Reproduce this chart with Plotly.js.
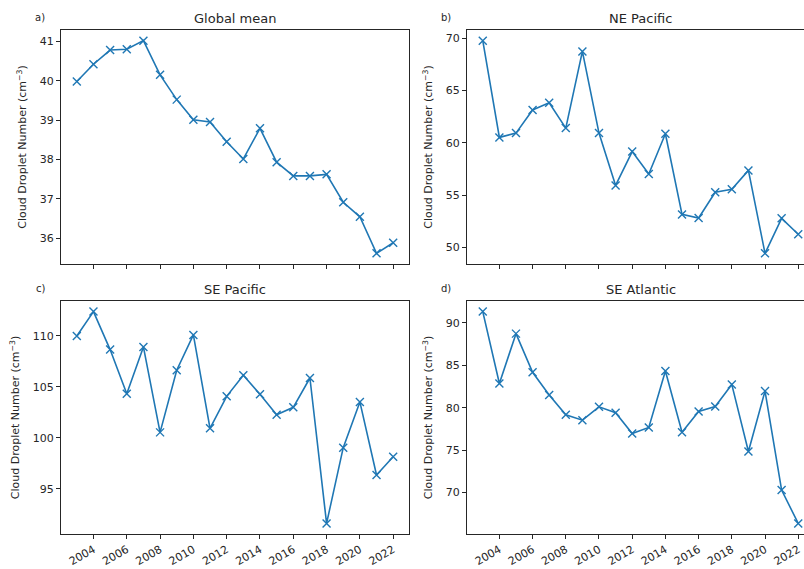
<!DOCTYPE html>
<html>
<head>
<meta charset="utf-8">
<script src="https://cdn.plot.ly/plotly-3.0.1.min.js"></script>
<style>
  html, body { margin: 0; padding: 0; overflow: hidden; background: #ffffff; }
  #chart { width: 822px; height: 569px; }
</style>
</head>
<body>
<div id="chart"></div>
<script>
// Annual cloud droplet number concentration, 2003-2022
const years = [2003, 2004, 2005, 2006, 2007, 2008, 2009, 2010, 2011, 2012,
               2013, 2014, 2015, 2016, 2017, 2018, 2019, 2020, 2021, 2022];

const globalMean = [39.98, 40.42, 40.78, 40.80, 41.02, 40.15, 39.52, 39.01, 38.95, 38.45,
                    38.01, 38.79, 37.93, 37.58, 37.58, 37.62, 36.91, 36.54, 35.61, 35.88];
const nePacific  = [69.78, 60.52, 60.93, 63.15, 63.83, 61.41, 68.75, 60.93, 55.92, 59.16,
                    57.01, 60.87, 53.15, 52.80, 55.27, 55.56, 57.36, 49.42, 52.77, 51.25];
const sePacific  = [110.0, 112.39, 108.66, 104.33, 108.92, 100.53, 106.63, 110.10, 100.93, 104.07,
                    106.14, 104.27, 102.27, 102.99, 105.87, 91.59, 99.03, 103.52, 96.34, 98.14];
const seAtlantic = [91.34, 82.85, 88.74, 84.18, 81.51, 79.16, 78.53, 80.10, 79.40, 76.96,
                    77.67, 84.34, 77.11, 79.55, 80.14, 82.73, 74.83, 81.96, 70.28, 66.35];

const panelTitles  = ["Global mean", "NE Pacific", "SE Pacific", "SE Atlantic"];
const panelLetters = ["a)", "b)", "c)", "d)"];
const yTickSteps   = [1, 5, 5, 5];
const xTickValues  = [2004, 2006, 2008, 2010, 2012, 2014, 2016, 2018, 2020, 2022];
const yLabel = "Cloud Droplet Number (cm<sup>\u22123</sup>)";

const series = [globalMean, nePacific, sePacific, seAtlantic];

// Figure geometry (pixels); the right column runs slightly past the page edge
const W = 822, H = 569;
const colX = [[61, 409], [467, 814]];
const rowY = [[30, 264], [301, 534]];

const lineColor = "#1f77b4";
const axisColor = "#262626";
const font = "DejaVu Sans, sans-serif";

function padRange(vals, frac) {
  const lo = Math.min(...vals), hi = Math.max(...vals);
  const p = (hi - lo) * frac;
  return [lo - p, hi + p];
}
const xPad = (years[years.length - 1] - years[0]) * 0.05;
const xRange = [years[0] - xPad, years[years.length - 1] + xPad];

const data = [];
const layout = {
  width: W, height: H,
  margin: {l: 0, r: 0, t: 0, b: 0},
  paper_bgcolor: "#ffffff",
  plot_bgcolor: "#ffffff",
  showlegend: false,
  font: {family: font, size: 11, color: axisColor},
  annotations: []
};

series.forEach((vals, i) => {
  const row = Math.floor(i / 2), col = i % 2;
  const n = i + 1;
  const xa = "x" + (n === 1 ? "" : n), ya = "y" + (n === 1 ? "" : n);
  const xk = "xaxis" + (n === 1 ? "" : n), yk = "yaxis" + (n === 1 ? "" : n);
  const [x0, x1] = colX[col];
  const [yt, yb] = rowY[row];

  data.push({
    type: "scatter", mode: "lines+markers",
    x: years, y: vals, xaxis: xa, yaxis: ya,
    line: {color: lineColor, width: 1.6},
    marker: {symbol: "x-thin", size: 8, color: lineColor,
             line: {color: lineColor, width: 1.4}}
  });

  layout[xk] = {
    domain: [x0 / W, x1 / W],
    anchor: ya,
    range: xRange,
    tickmode: "array", tickvals: xTickValues,
    ticktext: xTickValues.map(String),
    showticklabels: row === 1,
    tickangle: -30,
    ticks: "outside", ticklen: 4, tickwidth: 1, tickcolor: axisColor,
    showline: true, mirror: true, linecolor: axisColor, linewidth: 1,
    showgrid: false, zeroline: false,
    tickfont: {family: font, size: 11, color: axisColor}
  };
  const yr = padRange(vals, 0.05);
  layout[yk] = {
    domain: [(H - yb) / H, (H - yt) / H],
    anchor: xa,
    range: yr,
    tickmode: "linear", tick0: 0, dtick: yTickSteps[i],
    ticks: "outside", ticklen: 4, tickwidth: 1, tickcolor: axisColor,
    showline: true, mirror: true, linecolor: axisColor, linewidth: 1,
    showgrid: false, zeroline: false,
    tickfont: {family: font, size: 11, color: axisColor},
    title: {text: yLabel, standoff: 10, font: {family: font, size: 11, color: axisColor}}
  };

  layout.annotations.push({
    xref: "paper", yref: "paper",
    x: (x0 + x1) / 2 / W, y: (H - yt) / H,
    xanchor: "center", yanchor: "bottom", yshift: 2,
    text: panelTitles[i], showarrow: false,
    font: {family: font, size: 13, color: axisColor}
  });
  layout.annotations.push({
    xref: "paper", yref: "paper",
    x: (x0 - 21) / W, y: (H - yt + 13) / H,
    xanchor: "center", yanchor: "middle",
    text: panelLetters[i], showarrow: false,
    font: {family: font, size: 10, color: axisColor}
  });
});

Plotly.newPlot("chart", data, layout, {displayModeBar: false, staticPlot: true});
</script>
</body>
</html>
